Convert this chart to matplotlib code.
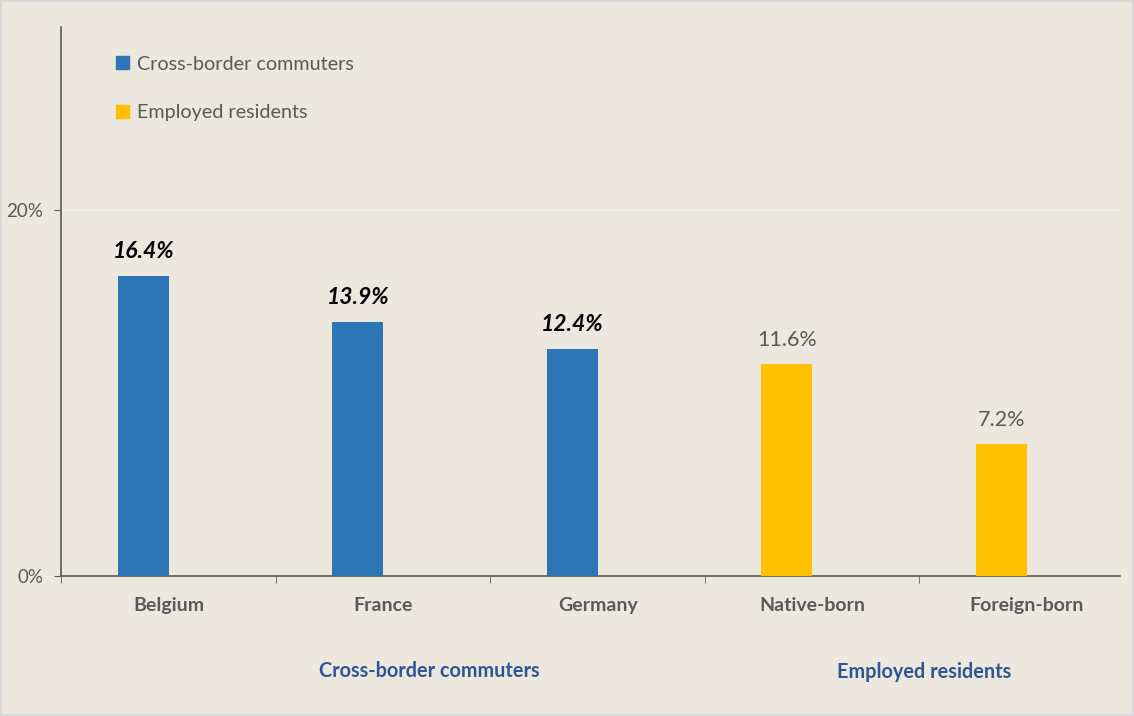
import matplotlib.pyplot as plt
import numpy as np

# shares by group
categories = ['Belgium', 'France', 'Germany', 'Native-born', 'Foreign-born']
values = [16.4, 13.9, 12.4, 11.6, 7.2]
series = ['Cross-border commuters', 'Cross-border commuters', 'Cross-border commuters',
          'Employed residents', 'Employed residents']
series_names = ['Cross-border commuters', 'Employed residents']
series_colors = {'Cross-border commuters': '#2E75B6', 'Employed residents': '#FFC000'}

bg = '#ECE8DE'
grey = '#595959'
plt.rcParams['font.family'] = ['Lato', 'DejaVu Sans']

fig = plt.figure(figsize=(11.34, 7.16), dpi=100, facecolor=bg)
ax = fig.add_axes([0.0542, 0.1955, 0.9335, 0.767])
ax.set_facecolor(bg)

x = np.arange(len(categories))
offset = 0.119
width = 0.238
colors = [series_colors[s] for s in series]
ax.bar(x - offset, values, width=width, color=colors, zorder=3)

# value labels: commuters bold italic, residents plain
for xi, v, s in zip(x, values, series):
    if s == 'Cross-border commuters':
        ax.text(xi - offset, v + 0.75, f'{v:.1f}%', ha='center', va='bottom',
                fontsize=16.5, fontweight='bold', fontstyle='italic', color='black')
    else:
        ax.text(xi - offset, v + 0.75, f'{v:.1f}%', ha='center', va='bottom',
                fontsize=15.5, color=grey)

ax.set_xlim(-0.5, 4.435)
ax.set_ylim(0, 30)
ax.set_yticks([0, 20])
ax.set_yticklabels(['0%', '20%'], fontsize=13.5, color=grey)
ax.axhline(20, color='#F4F2EC', lw=1, zorder=1)

ax.set_xticks(x)
ax.set_xticklabels(categories, fontsize=14, fontweight='bold', color=grey)
ax.set_xticks(np.arange(-0.5, 4.0, 1.0), minor=True)
ax.tick_params(axis='x', which='major', length=0, pad=15)
ax.tick_params(axis='x', which='minor', length=5, color=grey, direction='out')
ax.tick_params(axis='y', length=5, color=grey, pad=8)

for side in ['top', 'right']:
    ax.spines[side].set_visible(False)
for side in ['left', 'bottom']:
    ax.spines[side].set_color(grey)
    ax.spines[side].set_linewidth(1.2)

# group captions below the category labels
ax.text(1.215, -0.173, 'Cross-border commuters', transform=ax.get_xaxis_transform(),
        ha='center', va='center', fontsize=14.3, fontweight='bold', color='#2F5597')
ax.text(3.521, -0.175, 'Employed residents', transform=ax.get_xaxis_transform(),
        ha='center', va='center', fontsize=14.3, fontweight='bold', color='#2F5597')

# legend
handles = [plt.Rectangle((0, 0), 1, 1, color=series_colors[n]) for n in series_names]
leg = ax.legend(handles, series_names, loc='upper left', bbox_to_anchor=(0.035, 0.98),
                frameon=False, fontsize=14.2, labelcolor=grey, handlelength=0.65,
                handleheight=0.65, handletextpad=0.4, labelspacing=1.6)

fig.patches.append(plt.Rectangle((0, 0), 1, 1, transform=fig.transFigure,
                                 fill=False, edgecolor='#D9D9D9', lw=3))

fig.savefig('out.png', dpi=100, facecolor=bg)
